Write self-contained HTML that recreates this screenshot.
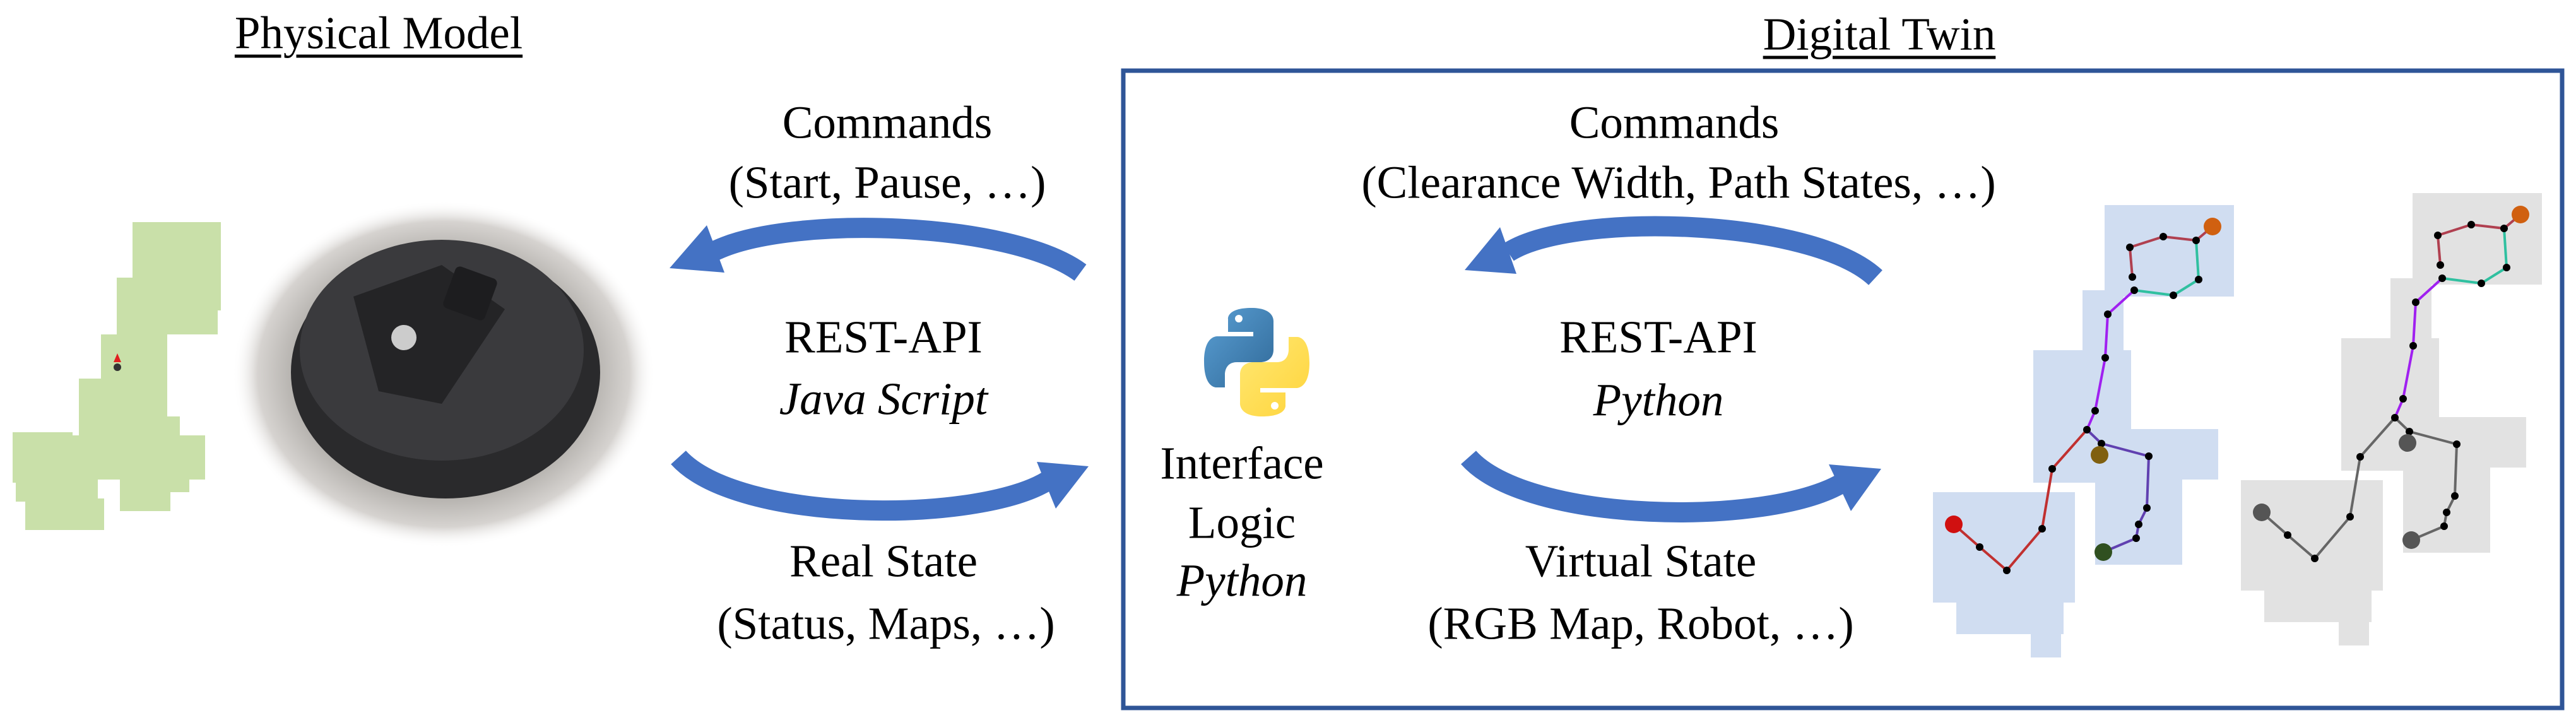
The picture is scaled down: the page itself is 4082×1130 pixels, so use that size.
<!DOCTYPE html>
<html><head><meta charset="utf-8"><style>
html,body{margin:0;padding:0;background:#fff;}
body{width:4082px;height:1130px;overflow:hidden;position:relative;font-family:"Liberation Serif",serif;}
.t{position:absolute;transform:translate(-50%,-50%);white-space:nowrap;font-size:73px;color:#000;line-height:1;}
.i{font-style:italic;}
.u{text-decoration:underline;text-decoration-thickness:5px;text-underline-offset:10px;}
</style></head><body>
<svg width="4082" height="1130" style="position:absolute;left:0;top:0">
<defs>
<radialGradient id="vig" cx="50%" cy="50%" r="50%">
<stop offset="0.7" stop-color="#b3b0ac"/><stop offset="0.88" stop-color="#d6d3d0"/><stop offset="1" stop-color="#fff" stop-opacity="0"/>
</radialGradient>
<linearGradient id="pb" x1="0" y1="0" x2="1" y2="1"><stop offset="0" stop-color="#5a9fd4"/><stop offset="1" stop-color="#306998"/></linearGradient>
<linearGradient id="py" x1="0" y1="0" x2="1" y2="1"><stop offset="0" stop-color="#ffe873"/><stop offset="1" stop-color="#ffd43b"/></linearGradient>
</defs>
<rect x="1780" y="112" width="2280" height="1010" fill="none" stroke="#2f5597" stroke-width="7"/>
<g fill="#c9e0a9">
<rect x="210" y="352" width="140" height="140"/>
<rect x="185" y="440" width="160" height="90"/>
<rect x="160" y="530" width="105" height="130"/>
<rect x="125" y="600" width="110" height="75"/>
<rect x="125" y="660" width="160" height="70"/>
<rect x="115" y="690" width="210" height="70"/>
<rect x="20" y="685" width="95" height="80"/>
<rect x="25" y="750" width="130" height="45"/>
<rect x="40" y="790" width="125" height="50"/>
<rect x="190" y="720" width="110" height="60"/>
<rect x="190" y="770" width="80" height="40"/>
</g>
<circle cx="186" cy="582" r="6" fill="#333"/><path d="M180 574 L186 560 L192 574Z" fill="#e02020"/>
<ellipse cx="703" cy="593" rx="335" ry="275" fill="url(#vig)"/>
<ellipse cx="706" cy="590" rx="245" ry="200" fill="#2a2a2c"/>
<ellipse cx="700" cy="555" rx="225" ry="175" fill="#3a3a3d"/>
<path d="M560 470 L700 420 L800 490 L700 640 L600 620Z" fill="#242426"/>
<rect x="710" y="430" width="70" height="70" rx="8" fill="#1d1d1f" transform="rotate(20 745 465)"/>
<circle cx="640" cy="535" r="20" fill="#ccc"/>
<g fill="none" stroke="#4472c4" stroke-width="32">
<path d="M1712,432 C1600,350 1250,340 1132,398"/>
<path d="M1075,725 C1170,830 1550,830 1660,762"/>
<path d="M2972,440 C2870,345 2490,335 2390,400"/>
<path d="M2327,725 C2420,830 2800,835 2918,766"/>
</g>
<g fill="#4472c4">
<path d="M1061,425 L1120,357 L1148,432Z"/>
<path d="M1725,739 L1643,732 L1673,806Z"/>
<path d="M2321,428 L2377,360 L2403,434Z"/>
<path d="M2981,743 L2898,736 L2933,810Z"/>
</g>
<g transform="translate(1908,488)">
<path d="M75 0 C35 0 38 18 38 18 L38 38 L78 38 L78 45 L22 45 C22 45 0 42 0 85 C0 128 20 126 20 126 L33 126 L33 106 C33 106 32 86 52 86 L90 86 C90 86 110 86 110 66 L110 22 C110 22 113 0 75 0Z" fill="url(#pb)"/>
<circle cx="55" cy="17" r="6" fill="#fff"/>
<path d="M92 172 C132 172 129 154 129 154 L129 134 L89 134 L89 127 L145 127 C145 127 167 130 167 87 C167 44 147 46 147 46 L134 46 L134 66 C134 66 135 86 115 86 L77 86 C77 86 57 86 57 106 L57 150 C57 150 54 172 92 172Z" fill="url(#py)"/>
<circle cx="112" cy="155" r="6" fill="#fff"/>
</g>
<g fill="#d0ddf1">
<rect x="3335" y="325" width="205" height="145"/>
<rect x="3300" y="460" width="65" height="110"/>
<rect x="3222" y="555" width="155" height="210"/>
<rect x="3240" y="680" width="275" height="80"/>
<rect x="3320" y="755" width="138" height="140"/>
<rect x="3063" y="780" width="225" height="175"/>
<rect x="3100" y="940" width="170" height="65"/>
<rect x="3218" y="990" width="48" height="52"/>
</g>
<g stroke-width="4" fill="none">
<polyline points="3379,439 3375,392 3428,375 3480,381 3506,359" stroke="#b04050"/>
<polyline points="3484,443 3480,381" stroke="#30c0a0"/>
<polyline points="3382,460 3444,468 3484,443" stroke="#30c0a0"/>
<polyline points="3382,460 3340,498 3336,567 3320,651 3307,681" stroke="#a020f0"/>
<polyline points="3307,681 3330,703 3405,723 3402,805 3389,831 3385,853 3333,875" stroke="#6040b0"/>
<polyline points="3307,681 3252,743 3236,838 3180,904 3137,867 3096,831" stroke="#c03030"/>
</g>
<g fill="#000">
<circle cx="3375" cy="392" r="6"/><circle cx="3428" cy="375" r="6"/><circle cx="3480" cy="381" r="6"/><circle cx="3379" cy="439" r="6"/><circle cx="3382" cy="460" r="6"/><circle cx="3444" cy="468" r="6"/><circle cx="3484" cy="443" r="6"/><circle cx="3340" cy="498" r="6"/><circle cx="3336" cy="567" r="6"/><circle cx="3320" cy="651" r="6"/><circle cx="3307" cy="681" r="6"/><circle cx="3330" cy="703" r="6"/><circle cx="3405" cy="723" r="6"/><circle cx="3402" cy="805" r="6"/><circle cx="3389" cy="831" r="6"/><circle cx="3385" cy="853" r="6"/><circle cx="3252" cy="743" r="6"/><circle cx="3236" cy="838" r="6"/><circle cx="3180" cy="904" r="6"/><circle cx="3137" cy="867" r="6"/>
</g>
<circle cx="3506" cy="359" r="14" fill="#d06010"/><circle cx="3333" cy="875" r="14" fill="#305020"/><circle cx="3327" cy="721" r="14" fill="#806010"/><circle cx="3096" cy="831" r="14" fill="#d01010"/>
<g transform="translate(488,-19)">
<g fill="#e2e2e2">
<rect x="3335" y="325" width="205" height="145"/>
<rect x="3300" y="460" width="65" height="110"/>
<rect x="3222" y="555" width="155" height="210"/>
<rect x="3240" y="680" width="275" height="80"/>
<rect x="3320" y="755" width="138" height="140"/>
<rect x="3063" y="780" width="225" height="175"/>
<rect x="3100" y="940" width="170" height="65"/>
<rect x="3218" y="990" width="48" height="52"/>
</g>
<g stroke-width="4" fill="none">
<polyline points="3379,439 3375,392 3428,375 3480,381 3506,359" stroke="#b04050"/>
<polyline points="3484,443 3480,381" stroke="#30c0a0"/>
<polyline points="3382,460 3444,468 3484,443" stroke="#30c0a0"/>
<polyline points="3382,460 3340,498 3336,567 3320,651 3307,681" stroke="#a020f0"/>
<polyline points="3307,681 3330,703 3405,723 3402,805 3389,831 3385,853 3333,875" stroke="#666"/>
<polyline points="3307,681 3252,743 3236,838 3180,904 3137,867 3096,831" stroke="#666"/>
</g>
<g fill="#000">
<circle cx="3375" cy="392" r="6"/><circle cx="3428" cy="375" r="6"/><circle cx="3480" cy="381" r="6"/><circle cx="3379" cy="439" r="6"/><circle cx="3382" cy="460" r="6"/><circle cx="3444" cy="468" r="6"/><circle cx="3484" cy="443" r="6"/><circle cx="3340" cy="498" r="6"/><circle cx="3336" cy="567" r="6"/><circle cx="3320" cy="651" r="6"/><circle cx="3307" cy="681" r="6"/><circle cx="3330" cy="703" r="6"/><circle cx="3405" cy="723" r="6"/><circle cx="3402" cy="805" r="6"/><circle cx="3389" cy="831" r="6"/><circle cx="3385" cy="853" r="6"/><circle cx="3252" cy="743" r="6"/><circle cx="3236" cy="838" r="6"/><circle cx="3180" cy="904" r="6"/><circle cx="3137" cy="867" r="6"/>
</g>
<circle cx="3506" cy="359" r="14" fill="#d06010"/><circle cx="3333" cy="875" r="14" fill="#555"/><circle cx="3327" cy="721" r="14" fill="#555"/><circle cx="3096" cy="831" r="14" fill="#555"/>
</g>
</svg>
<div class="t u" style="left:600px;top:52px">Physical Model</div>
<div class="t u" style="left:2978px;top:54px">Digital Twin</div>
<div class="t" style="left:1406px;top:194px">Commands</div>
<div class="t" style="left:1406px;top:289px">(Start, Pause, …)</div>
<div class="t" style="left:1400px;top:534px">REST-API</div>
<div class="t i" style="left:1400px;top:632px">Java Script</div>
<div class="t" style="left:1400px;top:889px">Real State</div>
<div class="t" style="left:1404px;top:988px">(Status, Maps, …)</div>
<div class="t" style="left:2653px;top:194px">Commands</div>
<div class="t" style="left:2660px;top:289px">(Clearance Width, Path States, …)</div>
<div class="t" style="left:2628px;top:534px">REST-API</div>
<div class="t i" style="left:2628px;top:634px">Python</div>
<div class="t" style="left:2600px;top:889px">Virtual State</div>
<div class="t" style="left:2600px;top:988px">(RGB Map, Robot, …)</div>
<div class="t" style="left:1968px;top:734px">Interface</div>
<div class="t" style="left:1968px;top:828px">Logic</div>
<div class="t i" style="left:1968px;top:920px">Python</div>
</body></html>
